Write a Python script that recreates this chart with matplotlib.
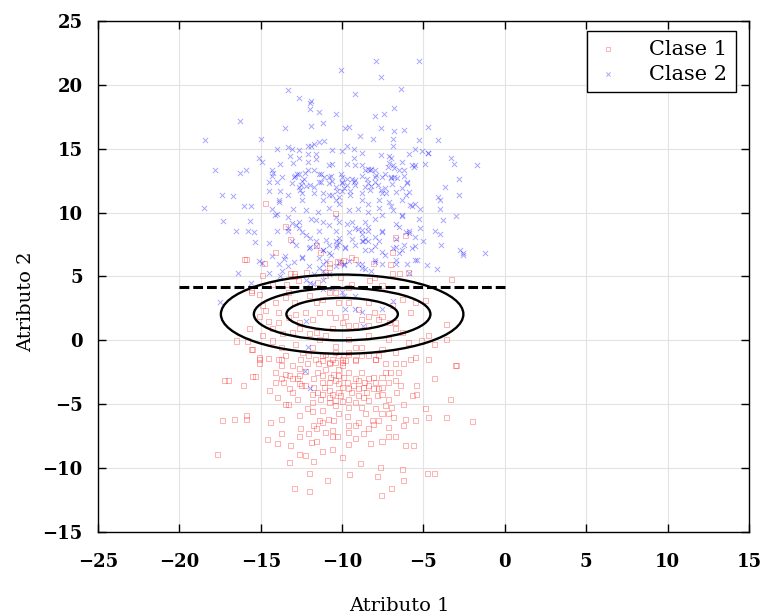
import numpy as np
import matplotlib
matplotlib.use('Agg')
import matplotlib.pyplot as plt
from matplotlib.patches import Ellipse

# puntos (Atributo 1, Atributo 2)
clase1 = [
    (-16.0, 6.35), (-15.55, 3.75), (-15.1, 3.6), (-14.1, 3.0), (-14.9, 2.7), (-13.5, 3.35),
    (-12.95, 2.95), (-13.3, 3.75), (-12.0, 3.5), (-11.6, 2.95), (-11.2, 3.2), (-10.8, 3.75),
    (-10.4, 3.75), (-10.2, 2.95), (-9.6, 2.95), (-9.0, 2.45), (-8.4, 2.95), (-8.0, 2.2),
    (-7.55, 1.9), (-6.9, 2.7), (-6.3, 3.2), (-5.8, 2.2), (-5.5, 2.95), (-4.9, 3.1),
    (-3.3, 4.8), (-3.6, 1.25), (-8.3, 4.65), (-8.0, 4.9), (-6.9, 5.2), (-6.5, 5.2),
    (-10.1, 4.9), (-9.4, 4.4), (-9.6, 4.15), (-11.5, 4.55), (-11.0, 5.05), (-12.2, 5.3),
    (-12.95, 5.2), (-14.9, 5.05), (-14.3, 4.4), (-15.7, 0.9), (-15.8, -0.05), (-15.5, -0.7),
    (-15.1, -1.5), (-14.5, 1.5), (-13.9, 1.4), (-14.3, 0.9), (-13.3, 1.8), (-12.65, 1.4),
    (-12.65, 0.9), (-12.0, 0.5), (-11.6, 0.6), (-11.4, 0.1), (-10.6, 0.9), (-10.4, 1.8),
    (-10.0, 1.4), (-9.6, 1.15), (-8.8, 1.65), (-8.4, 1.15), (-7.75, 1.65), (-7.1, 1.4),
    (-6.7, 0.9), (-6.3, 0.6), (-5.9, -0.15), (-5.1, -0.05), (-4.7, 0.35), (-4.3, -0.3),
    (-3.6, 0.1), (-14.9, 0.35), (-14.3, -0.05), (-13.7, -0.55), (-12.85, -0.3), (-12.45, -0.95),
    (-11.85, -0.55), (-11.2, -1.2), (-10.4, -0.45), (-10.0, -1.5), (-9.6, -0.95), (-8.8, -0.55),
    (-8.4, -1.2), (-7.55, -0.7), (-6.7, -0.95), (-5.8, -1.5), (-4.7, -1.5), (-3.05, -1.95),
    (-13.9, -1.5), (-13.5, -1.2), (-10.8, -1.75), (-10.0, -2.0), (-9.2, -1.6), (-15.1, 1.9),
    (-14.7, 2.3), (-13.9, 2.2), (-12.85, 2.05), (-11.4, 2.2),
    (-16.5, -0.05), (-15.55, -0.7), (-15.05, -1.8), (-14.5, -1.4), (-13.7, -1.5), (-15.05, -1.35),
    (-17.2, -3.15), (-17.0, -3.15), (-16.05, -3.55), (-15.5, -2.85), (-15.35, -2.85), (-14.1, -2.5),
    (-14.1, -3.3), (-13.5, -2.7), (-13.05, -2.0), (-12.65, -2.2), (-12.6, -3.4), (-12.5, -3.5),
    (-14.45, -3.95), (-14.0, -4.45), (-13.5, -5.05), (-13.3, -5.05), (-12.75, -4.65), (-12.15, -5.35),
    (-11.85, -4.85), (-11.2, -5.5), (-10.8, -4.85), (-10.4, -4.7), (-10.0, -4.8), (-11.5, -2.5),
    (-11.0, -2.25), (-10.8, -1.85), (-10.4, -1.75), (-10.0, -1.75), (-9.8, -1.6), (-9.6, -2.5),
    (-9.2, -3.0), (-8.8, -2.5), (-8.4, -3.0), (-8.1, -2.9), (-7.75, -3.8), (-7.55, -3.7),
    (-7.15, -3.3), (-6.75, -3.15), (-9.0, -4.3), (-8.7, -4.45), (-9.6, -4.6), (-9.2, -4.85),
    (-8.4, -4.7), (-7.85, -4.3), (-7.35, -5.1), (-6.95, -5.25), (-6.2, -5.0), (-5.7, -4.3),
    (-5.4, -4.2), (-4.9, -5.35), (-4.3, -3.0), (-5.4, -3.5), (-6.4, -3.55), (-6.2, -1.85),
    (-5.5, -1.35), (-6.75, -1.85), (-7.35, -1.85), (-7.75, -1.2), (-7.95, -1.5), (-8.8, -1.2),
    (-9.2, -1.5), (-3.0, -1.95), (-3.35, -4.65), (-17.35, -6.25), (-16.6, -6.2), (-15.9, -5.9),
    (-15.9, -6.2), (-14.4, -6.45), (-13.7, -6.2), (-12.55, -6.9), (-11.75, -6.7), (-11.6, -6.9),
    (-11.4, -6.25), (-10.85, -6.2), (-10.5, -6.25), (-9.7, -5.95), (-9.2, -6.65), (-8.7, -7.3),
    (-9.0, -6.4), (-8.15, -6.25), (-8.05, -6.6), (-7.55, -5.75), (-7.75, -6.25), (-6.85, -6.0),
    (-6.2, -6.65), (-6.1, -6.2), (-5.5, -6.25), (-4.7, -6.05), (-3.6, -6.05), (-2.0, -6.35),
    (-17.65, -8.9), (-14.6, -7.75), (-13.7, -7.3), (-12.65, -7.5), (-11.9, -8.0), (-11.6, -7.9),
    (-11.0, -7.25), (-10.6, -7.55), (-10.3, -7.5), (-9.6, -7.25), (-9.6, -8.15), (-8.25, -8.1),
    (-7.15, -7.5), (-6.75, -7.5), (-6.1, -8.2), (-5.6, -8.2), (-14.0, -8.1), (-13.15, -8.2),
    (-11.2, -8.7), (-10.6, -8.55), (-9.95, -9.2), (-13.25, -9.55), (-12.6, -8.95), (-12.25, -9.05),
    (-11.75, -9.5), (-8.85, -9.65), (-7.65, -9.95), (-6.3, -10.1), (-4.75, -10.4), (-4.3, -10.4),
    (-12.0, -10.4), (-9.55, -10.5), (-7.85, -10.65), (-10.9, -11.0), (-6.2, -11.0), (-12.95, -11.6),
    (-12.0, -11.85), (-7.6, -12.15), (-6.95, -11.6),
    (-11.65, -1.5), (-11.45, -1.85), (-11.2, -1.6), (-10.6, -1.5), (-10.2, -2.25), (-10.5, -2.65),
    (-10.4, -3.15), (-10.2, -3.4), (-9.9, -2.9), (-10.8, -3.3), (-11.1, -3.7), (-10.8, -3.95),
    (-10.6, -4.2), (-10.2, -4.05), (-9.6, -3.8), (-10.0, -3.7), (-8.4, -3.55), (-8.05, -3.8),
    (-8.7, -3.7), (-7.95, -3.3), (-7.35, -2.5), (-7.05, -2.5), (-12.65, -2.75), (-12.25, -2.4),
    (-12.15, -1.85), (-11.75, -3.0), (-12.25, -3.55), (-11.85, -4.2), (-11.2, -4.2), (-11.3, -4.6),
    (-10.4, -5.1), (-9.6, -5.25), (-8.8, -5.25), (-7.95, -5.35), (-13.7, -3.0), (-13.25, -3.8),
    (-13.05, -4.05), (-12.75, -3.0), (-13.7, -2.0), (-13.6, -3.3),
    (-11.2, -2.75), (-10.7, -2.9), (-10.2, -2.75), (-9.7, -3.3), (-9.3, -3.55), (-9.0, -3.15),
    (-8.6, -3.3), (-11.2, -3.3), (-11.75, -3.7), (-11.5, -4.05), (-10.8, -4.45), (-10.1, -4.3),
    (-9.4, -4.05), (-9.0, -3.8), (-8.5, -4.05), (-7.55, -4.2), (-7.15, -4.6), (-6.65, -4.05),
    (-6.55, -2.5), (-7.55, -2.9), (-10.2, -1.2), (-9.6, -1.1), (-11.0, -1.1), (-12.05, -1.2),
    (-12.55, -1.5), (-13.05, -3.0), (-13.25, -2.75), (-11.85, -5.6), (-10.2, -5.75), (-8.55, -5.75),
    (-7.15, -5.75), (-12.65, -5.9), (-11.2, -6.4), (-9.6, -6.65), (-8.35, -6.9), (-7.15, -6.8),
    (-10.6, -7.05), (-12.05, -7.3), (-9.2, -7.7), (-7.55, -7.95),
    (-12.25, 2.2), (-11.85, 1.65), (-10.8, 2.2), (-9.8, 1.9), (-9.2, 1.15), (-8.4, 1.9),
    (-6.7, 1.4), (-11.0, 0.35), (-9.6, 0.1), (-8.4, 0.35), (-7.15, 0.1), (-13.05, 0.6),
    (-13.65, 0.5), (-9.2, -0.55), (-7.95, -1.5), (-10.4, -0.95),
    (-14.7, 10.75), (-10.4, 9.9), (-13.45, 8.9), (-13.2, 7.9), (-14.1, 6.85), (-15.9, 6.3),
    (-14.8, 6.05), (-11.6, 7.45), (-11.3, 6.9), (-10.8, 6.0), (-10.3, 6.15), (-9.9, 6.25),
    (-9.4, 6.5), (-8.05, 6.0), (-7.0, 5.9), (-6.9, 6.9), (-6.7, 8.05), (-6.1, 8.2),
    (-5.9, 5.3), (-9.2, 6.35), (-10.1, 6.1), (-7.55, 4.3), (-13.2, 5.2), (-12.95, 5.0),
    (-12.7, 4.7), (-13.4, 4.35), (-11.0, 5.3), (-10.8, 5.7), (-15.55, 3.9),
]

clase2 = [
    (-7.9, 21.9), (-5.3, 21.9), (-10.1, 21.2), (-7.6, 20.6), (-13.3, 19.6), (-9.2, 19.3),
    (-6.4, 19.7), (-12.65, 19.0), (-12.0, 18.6), (-11.9, 18.7), (-12.0, 18.1), (-11.4, 17.9),
    (-10.4, 17.7), (-16.3, 17.2), (-8.0, 17.6), (-7.4, 17.7), (-6.8, 18.2), (-11.9, 16.8),
    (-11.2, 17.0), (-13.5, 16.6), (-9.8, 16.6), (-9.55, 16.7), (-7.6, 16.6), (-6.8, 16.4),
    (-6.2, 16.5), (-4.7, 16.7), (-18.4, 15.7), (-15.0, 15.8), (-8.9, 16.0), (-8.1, 15.8),
    (-6.9, 15.8), (-5.3, 15.7), (-4.1, 15.7), (-14.0, 15.0), (-13.3, 15.1), (-13.1, 15.0),
    (-12.65, 14.9), (-12.1, 15.2), (-11.9, 15.2), (-11.7, 15.4), (-11.4, 15.5), (-11.1, 15.6),
    (-10.6, 14.9), (-9.7, 15.2), (-9.3, 15.0), (-10.0, 14.8), (-6.9, 15.2), (-5.55, 15.0),
    (-5.1, 14.8), (-4.7, 14.7),
    (-15.1, 14.3), (-13.2, 14.4), (-12.65, 14.3), (-12.1, 14.6), (-11.6, 14.6), (-9.3, 14.3),
    (-8.8, 14.7), (-7.6, 14.5), (-7.0, 14.3), (-5.9, 14.6), (-4.7, 14.7), (-3.3, 14.3),
    (-3.1, 13.8), (-1.7, 13.7),
    (-17.8, 13.3), (-16.3, 13.1), (-15.9, 13.3), (-14.3, 13.3), (-13.8, 13.8), (-13.0, 13.9),
    (-10.8, 13.7), (-10.65, 13.8), (-9.7, 13.8), (-9.2, 13.7), (-8.8, 13.7), (-8.3, 13.3),
    (-8.0, 13.3), (-6.9, 13.7), (-6.5, 13.3), (-5.6, 13.6), (-4.9, 13.8), (-12.1, 13.3),
    (-12.65, 13.0),
    (-14.5, 12.4), (-14.0, 12.4), (-14.3, 12.9), (-12.9, 12.85), (-12.45, 12.5), (-11.4, 12.4),
    (-10.6, 12.5), (-10.0, 12.4), (-9.3, 12.4), (-8.4, 12.3), (-7.55, 12.8), (-7.0, 12.7),
    (-6.6, 12.7), (-6.0, 12.3), (-3.7, 12.0), (-2.8, 12.6), (-11.7, 12.0), (-10.8, 12.3),
    (-12.2, 12.1), (-13.1, 12.3),
    (-17.4, 11.4), (-16.7, 11.3), (-14.5, 11.7), (-13.8, 11.7), (-13.3, 11.4), (-12.45, 11.5),
    (-11.7, 11.5), (-11.2, 11.0), (-10.6, 11.4), (-10.0, 11.7), (-9.5, 11.4), (-8.8, 11.5),
    (-8.3, 11.75), (-7.55, 11.5), (-6.7, 11.6), (-6.1, 11.4), (-5.5, 10.7), (-4.1, 11.2),
    (-2.8, 11.4), (-13.9, 11.0), (-12.45, 11.0), (-10.4, 11.0), (-7.75, 11.0), (-7.1, 10.8),
    (-6.3, 11.0),
    (-18.5, 10.4), (-16.0, 10.5), (-15.6, 10.5), (-14.0, 9.9), (-13.0, 10.3), (-12.2, 10.2),
    (-11.5, 10.05), (-10.8, 10.4), (-10.2, 10.7), (-9.6, 10.2), (-9.0, 10.3), (-8.4, 10.05),
    (-7.75, 10.4), (-6.9, 10.2), (-6.3, 9.7), (-5.8, 10.6), (-5.2, 10.3), (-4.0, 10.3),
    (-4.0, 11.0),
    (-17.3, 9.35), (-16.5, 8.6), (-15.65, 9.35), (-15.4, 8.5), (-14.0, 8.6), (-13.3, 8.6),
    (-12.65, 9.3), (-11.9, 9.5), (-11.2, 9.3), (-10.8, 9.0), (-10.4, 8.6), (-9.7, 9.1),
    (-9.0, 8.75), (-8.6, 9.3), (-8.0, 9.5), (-7.55, 8.6), (-6.7, 9.1), (-5.9, 8.6),
    (-5.3, 9.5), (-4.3, 8.6), (-3.8, 9.45), (-3.0, 9.7),
    (-15.35, 7.7), (-14.5, 7.6), (-13.1, 7.8), (-12.0, 8.0), (-11.6, 7.4), (-10.4, 7.8),
    (-10.2, 7.7), (-9.4, 7.95), (-8.8, 7.8), (-8.4, 7.8), (-7.55, 8.5), (-6.7, 7.95),
    (-6.1, 8.5), (-5.5, 7.4), (-5.0, 7.8), (-3.9, 7.5), (-2.75, 7.05), (-2.55, 6.65),
    (-1.2, 6.85), (-12.0, 7.3), (-11.2, 7.05), (-10.8, 6.8), (-9.8, 7.3), (-8.0, 7.4),
    (-14.9, 6.05), (-13.6, 6.4), (-12.45, 6.5), (-11.2, 6.0), (-10.2, 6.1), (-9.9, 5.9),
    (-8.8, 6.0), (-8.0, 6.3), (-6.7, 6.3), (-6.0, 6.0), (-4.8, 5.9), (-4.2, 5.6),
    (-16.4, 5.3), (-15.1, 6.2), (-14.5, 5.3), (-14.3, 6.6), (-13.9, 5.95), (-13.8, 5.05),
    (-15.8, 8.6), (-2.6, 6.8), (-5.5, 6.3),
    (-15.6, 4.5), (-12.0, 4.5), (-11.8, 4.4), (-11.2, 5.45), (-10.4, 5.8), (-9.9, 5.95),
    (-8.8, 5.7), (-8.0, 6.1), (-6.7, 5.95), (-5.9, 5.3), (-17.5, 3.0), (-12.2, 1.5),
    (-9.8, 2.45), (-9.2, 2.45), (-8.8, 2.2), (-8.7, 1.15), (-7.55, 2.45), (-6.9, 3.1),
    (-11.2, 4.0), (-10.6, 4.1), (-10.0, 3.75), (-9.9, 3.5), (-9.2, 3.5),
    (-12.1, -0.55), (-12.3, -2.4), (-12.0, -3.7),
    (-12.1, 14.0), (-11.6, 14.2), (-14.9, 14.0), (-14.25, 13.1), (-13.7, 12.75), (-12.8, 13.0),
    (-12.5, 12.2), (-12.3, 13.1), (-11.7, 13.3), (-11.3, 13.0), (-11.3, 12.4), (-10.8, 12.8),
    (-12.6, 11.8), (-12.0, 12.2),
    (-7.1, 14.4), (-8.4, 13.4), (-8.2, 13.45), (-8.6, 13.35), (-7.9, 12.95), (-8.0, 12.8),
    (-7.35, 13.0), (-7.0, 12.8), (-6.8, 12.75), (-7.1, 13.9), (-7.2, 13.6), (-6.8, 13.5),
    (-6.3, 14.0), (-6.2, 13.35), (-5.7, 13.7), (-5.5, 13.7), (-10.1, 13.0), (-9.7, 12.6),
    (-10.0, 12.35), (-9.4, 12.6), (-9.9, 11.95), (-9.5, 11.7), (-10.3, 11.7), (-9.2, 12.15),
    (-8.5, 12.6), (-8.2, 12.1), (-7.8, 12.2), (-7.6, 11.8), (-7.3, 11.5), (-6.2, 12.9),
    (-6.0, 12.4), (-6.3, 11.9), (-5.9, 11.6),
    (-4.0, 8.3), (-5.4, 6.3), (-5.2, 8.8), (-5.7, 7.2), (-6.2, 7.5), (-6.5, 6.85),
    (-7.55, 5.95), (-6.9, 7.2), (-7.35, 6.7), (-8.2, 7.1), (-7.75, 7.75), (-8.6, 7.9),
    (-8.8, 8.65), (-9.2, 8.8), (-9.4, 9.3), (-10.2, 8.0), (-10.3, 7.5), (-9.8, 7.2),
    (-8.7, 7.75), (-8.4, 8.9), (-7.55, 9.8), (-7.0, 10.55), (-6.3, 9.8), (-5.7, 10.55),
    (-6.5, 8.9), (-5.9, 8.4), (-5.5, 8.1), (-9.6, 6.2), (-9.0, 5.95), (-8.6, 5.55),
    (-8.2, 5.45),
    (-14.3, 10.3), (-13.9, 10.8), (-14.1, 9.8), (-13.3, 8.8), (-13.1, 9.15), (-12.65, 8.8),
    (-12.25, 8.25), (-12.85, 7.5), (-12.05, 7.2), (-11.6, 7.75), (-11.2, 7.1), (-10.8, 7.5),
    (-11.4, 6.45), (-12.45, 6.45), (-12.95, 6.1), (-13.5, 6.6), (-13.7, 5.45), (-13.3, 5.8),
    (-12.05, 5.8), (-11.4, 5.7), (-11.0, 6.2), (-10.7, 6.7), (-11.7, 5.2), (-12.25, 4.7),
    (-11.2, 4.7), (-10.8, 5.2),
    (-12.95, 12.8), (-12.65, 12.0), (-12.35, 12.65), (-11.4, 13.05), (-11.1, 12.8), (-10.7, 12.9),
    (-10.4, 12.0), (-10.0, 12.8), (-9.7, 12.15), (-9.2, 12.55), (-8.8, 12.9), (-8.6, 12.0),
    (-8.0, 12.4), (-7.35, 11.9), (-6.95, 12.25), (-11.2, 11.5), (-10.8, 11.35), (-10.2, 11.2),
    (-8.8, 10.95), (-8.4, 10.7), (-11.6, 9.4), (-11.4, 8.6), (-10.4, 9.65), (-10.2, 9.25),
    (-8.8, 8.35), (-8.4, 8.6), (-8.0, 8.1), (-9.2, 7.45), (-8.6, 7.05), (-7.55, 6.9),
    (-6.7, 7.3), (-6.3, 7.05), (-12.45, 8.5), (-12.85, 9.0), (-13.3, 9.65), (-9.6, 8.5),
    (-10.4, 7.3), (-11.0, 7.85),
]

# curvas de nivel de la gaussiana de la clase 1: centro, ancho y alto total
centro = (-10.0, 2.05)
anchos = [14.9, 10.85, 6.85]
altos = [6.2, 4.1, 2.55]

# frontera de decision
frontera_x = [-20.0, 0.0]
frontera_y = [4.15, 4.15]

xticks = list(range(-25, 16, 5))
yticks = list(range(-15, 26, 5))

c1 = np.array(clase1)
c2 = np.array(clase2)

fig = plt.figure(figsize=(7.67, 6.16), dpi=100)
ax = fig.add_axes([0.1278, 0.1364, 0.8487, 0.8295])

ax.scatter(c1[:, 0], c1[:, 1], marker='s', s=13, facecolors='none',
           edgecolors='red', linewidths=0.7, alpha=0.3, label='Clase 1', zorder=2)
ax.scatter(c2[:, 0], c2[:, 1], marker='x', s=14, color='blue',
           linewidths=0.7, alpha=0.35, label='Clase 2', zorder=2)

for w, h in zip(anchos, altos):
    ax.add_patch(Ellipse(centro, w, h, fill=False, edgecolor='black', lw=1.7, zorder=3))

ax.plot(frontera_x, frontera_y, color='black', lw=2.2, dashes=(3.2, 1.3), zorder=4)

ax.set_xlim(-25, 15)
ax.set_ylim(-15, 25)
ax.set_xticks(xticks)
ax.set_yticks(yticks)
ax.grid(True, color='#e3e3e3', lw=0.8)
ax.set_axisbelow(True)

ax.tick_params(direction='in', length=6, width=1, top=True, right=True)
ax.tick_params(axis='x', pad=15)
ax.tick_params(axis='y', pad=11)
for lab in ax.get_xticklabels() + ax.get_yticklabels():
    lab.set_fontfamily('DejaVu Serif')
    lab.set_fontweight('bold')
    lab.set_fontsize(13)
for sp in ax.spines.values():
    sp.set_linewidth(1.0)

ax.set_xlabel('Atributo 1', fontfamily='DejaVu Serif', fontsize=14)
ax.set_ylabel('Atributo 2', fontfamily='DejaVu Serif', fontsize=14)
ax.xaxis.set_label_coords(0.463, -0.128)
ax.yaxis.set_label_coords(-0.097, 0.45)

leg = ax.legend(loc='upper right', bbox_to_anchor=(0.98, 0.98), borderaxespad=0,
                fancybox=False, edgecolor='black', framealpha=1,
                prop={'family': 'DejaVu Serif', 'size': 15},
                handlelength=1.2, handletextpad=1.4, borderpad=0.4,
                labelspacing=0.3, markerscale=0.8)
leg.get_frame().set_linewidth(1.0)

fig.savefig('out.png', dpi=100)
